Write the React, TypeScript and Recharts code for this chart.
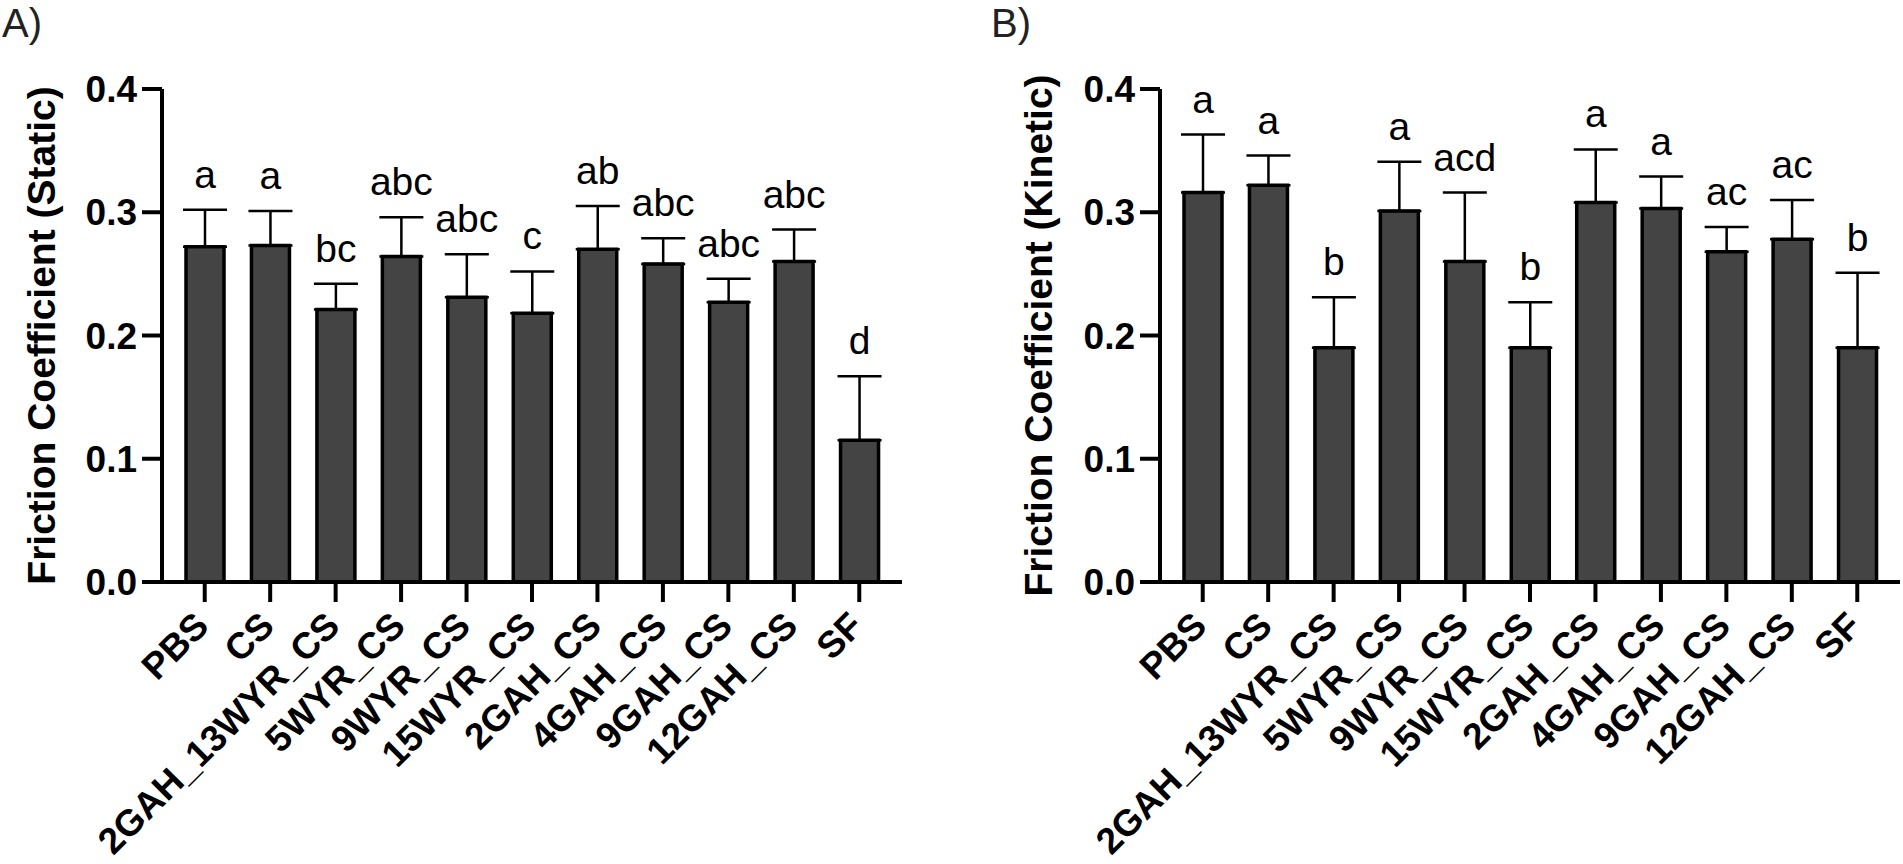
import React from 'react';
import { BarChart, Bar, XAxis, YAxis, ErrorBar, LabelList, Label } from 'recharts';

const categories = ['PBS', 'CS', '2GAH_13WYR_CS', '5WYR_CS', '9WYR_CS', '15WYR_CS', '2GAH_CS', '4GAH_CS', '9GAH_CS', '12GAH_CS', 'SF'];

const staticMean = [0.272, 0.273, 0.221, 0.264, 0.231, 0.218, 0.270, 0.258, 0.227, 0.260, 0.115];
const staticSD = [0.030, 0.028, 0.021, 0.032, 0.035, 0.034, 0.035, 0.021, 0.019, 0.026, 0.052];
const staticLetters = ['a', 'a', 'bc', 'abc', 'abc', 'c', 'ab', 'abc', 'abc', 'abc', 'd'];

const kineticMean = [0.316, 0.322, 0.190, 0.301, 0.260, 0.190, 0.308, 0.303, 0.268, 0.278, 0.190];
const kineticSD = [0.047, 0.024, 0.041, 0.040, 0.056, 0.037, 0.043, 0.026, 0.020, 0.032, 0.061];
const kineticLetters = ['a', 'a', 'b', 'a', 'acd', 'b', 'a', 'a', 'ac', 'ac', 'b'];

const yTicks = [0, 0.1, 0.2, 0.3, 0.4];

const FONT = '"Liberation Sans", Arial, Helvetica, sans-serif';

function buildRows(means: number[], sds: number[], letters: string[]) {
  return categories.map((name, i) => ({
    name,
    value: means[i],
    sd: sds[i],
    errRange: [0, sds[i]],
    letter: letters[i],
  }));
}

const XTick = (props: any) => {
  const { x, y, payload } = props;
  return (
    <g transform={`translate(${x + 6},${y + 26})`}>
      <text
        x={0}
        y={0}
        transform="rotate(-45)"
        textAnchor="end"
        fontFamily={FONT}
        fontWeight={700}
        fontSize={37}
        fill="#000"
      >
        {payload.value}
      </text>
    </g>
  );
};

const makeLetterRenderer = (means: number[], sds: number[], letters: string[]) => (props: any) => {
  const vb = props.viewBox && props.viewBox.width != null ? props.viewBox : props;
  const { x, y, width, height } = vb;
  const i = categories.indexOf(props.value);
  if (i < 0 || x == null) return null;
  const pxPerUnit = height / means[i];
  const errTop = y - sds[i] * pxPerUnit;
  return (
    <text
      x={x + width / 2}
      y={errTop - 22}
      textAnchor="middle"
      fontFamily={FONT}
      fontSize={39}
      fill="#000"
    >
      {letters[i]}
    </text>
  );
};

interface PanelProps {
  means: number[];
  sds: number[];
  letters: string[];
  title: string;
  width: number;
  marginLeft: number;
  marginRight: number;
  yAxisWidth: number;
  titleOffset: number;
}

function Panel({ means, sds, letters, title, width, marginLeft, marginRight, yAxisWidth, titleOffset }: PanelProps) {
  const rows = buildRows(means, sds, letters);
  return (
    <BarChart
      width={width}
      height={864}
      data={rows}
      margin={{ top: 89, right: marginRight, bottom: 0, left: marginLeft }}
    >
      <XAxis
        dataKey="name"
        interval={0}
        height={282}
        tickSize={20}
        tickMargin={0}
        padding={{ left: 10, right: 10 }}
        axisLine={{ stroke: '#000', strokeWidth: 4 }}
        tickLine={{ stroke: '#000', strokeWidth: 4 }}
        tick={<XTick />}
      />
      <YAxis
        domain={[0, 0.4]}
        ticks={yTicks}
        interval={0}
        width={yAxisWidth}
        tickSize={20}
        tickMargin={5}
        axisLine={{ stroke: '#000', strokeWidth: 4 }}
        tickLine={{ stroke: '#000', strokeWidth: 4 }}
        tickFormatter={(v: number) => v.toFixed(1)}
        tick={{ fontSize: 37, fontWeight: 700, fill: '#000', fontFamily: FONT }}
      >
        <Label
          value={title}
          angle={-90}
          position="insideLeft"
          offset={titleOffset}
          fontSize={39}
          fontWeight={700}
          fontFamily={FONT}
          fill="#000"
          style={{ textAnchor: 'middle', fontSize: 39, fontWeight: 700, fontFamily: FONT, fill: '#000' }}
        />
      </YAxis>
      <Bar dataKey="value" fill="#444444" stroke="#000" strokeWidth={3.5} barSize={38} isAnimationActive={false}>
        <ErrorBar dataKey="errRange" width={22} strokeWidth={2.5} stroke="#000" direction="y" isAnimationActive={false} />
        <LabelList dataKey="name" content={makeLetterRenderer(means, sds, letters)} />
      </Bar>
    </BarChart>
  );
}

export default function App() {
  return (
    <div style={{ position: 'absolute', left: 0, top: 0, width: 1903, height: 864, background: '#fff', overflow: 'hidden' }}>
      <div style={{ position: 'absolute', left: 2, top: 3, fontFamily: FONT, fontSize: 40, lineHeight: 1, color: '#222' }}>A)</div>
      <div style={{ position: 'absolute', left: 991, top: 3, fontFamily: FONT, fontSize: 40, lineHeight: 1, color: '#222' }}>B)</div>
      <div style={{ position: 'absolute', left: 0, top: 0 }}>
        <Panel
          means={staticMean}
          sds={staticSD}
          letters={staticLetters}
          title="Friction Coefficient (Static)"
          width={940}
          marginLeft={10}
          marginRight={38}
          yAxisWidth={152}
          titleOffset={31}
        />
      </div>
      <div style={{ position: 'absolute', left: 960, top: 0 }}>
        <Panel
          means={kineticMean}
          sds={kineticSD}
          letters={kineticLetters}
          title="Friction Coefficient (Kinetic)"
          width={943}
          marginLeft={40}
          marginRight={3}
          yAxisWidth={160}
          titleOffset={38}
        />
      </div>
    </div>
  );
}
